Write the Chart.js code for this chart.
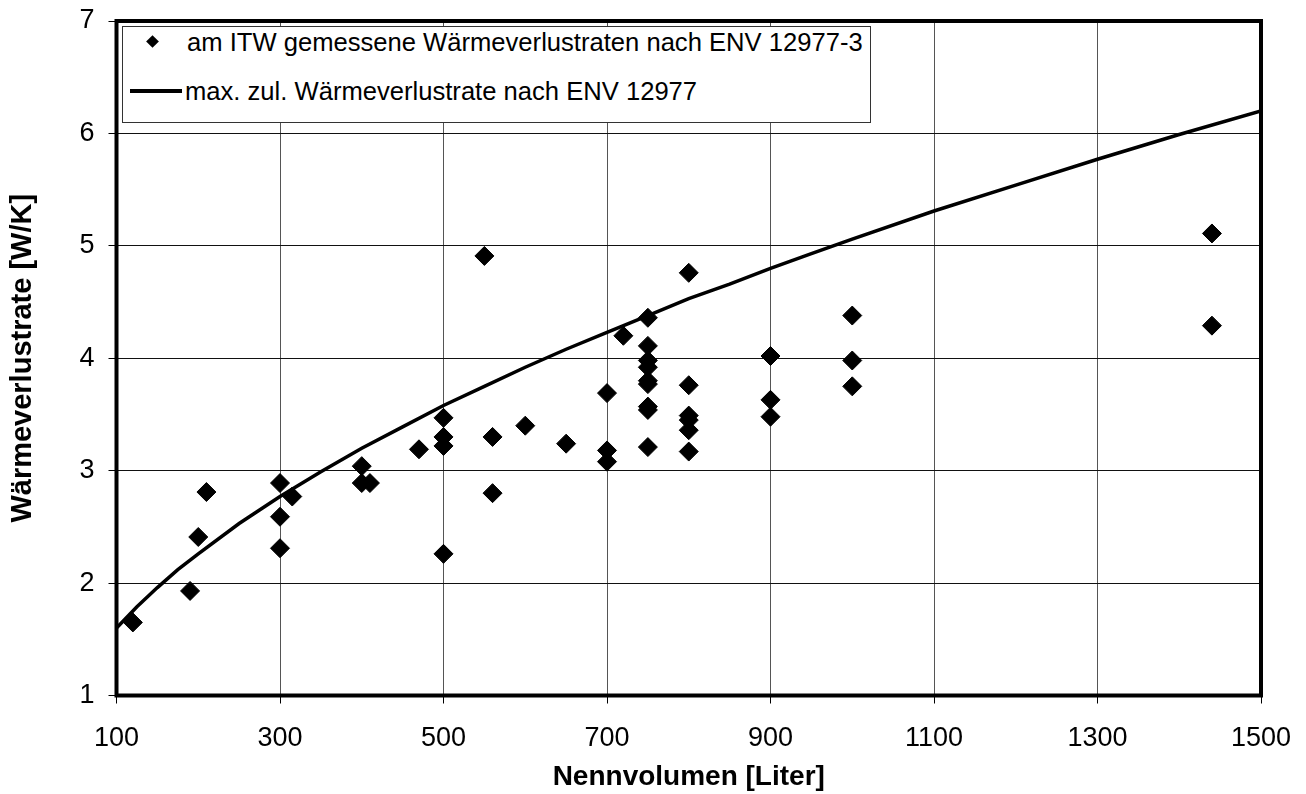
<!DOCTYPE html>
<html>
<head>
<meta charset="utf-8">
<script src="https://cdn.jsdelivr.net/npm/chart.js@4.4.1/dist/chart.umd.min.js"></script>
<style>
  body { margin: 0; background: #fff; }
  #wrap { position: relative; width: 1306px; height: 794px; }
  #legende { position: absolute; left: 122px; top: 26px; width: 749px; height: 97px;
    box-sizing: border-box; border: 1px solid #333; background: #fff; }
  .txt { position: absolute; white-space: nowrap; font-family: 'Liberation Sans', Arial, sans-serif;
    font-size: 25.6px; line-height: 30px; color: #000; }
  #raute { position: absolute; left: 148px; top: 37px; width: 9px; height: 9px; background: #000;
    transform: rotate(45deg); }
  #strich { position: absolute; left: 130px; top: 89px; width: 52px; height: 4px; background: #000; }
</style>
</head>
<body>
<div id="wrap">
  <canvas id="grafik" width="1306" height="794"></canvas>
  <div id="legende"></div>
  <div id="raute"></div>
  <div class="txt" style="left:187px; top:27px;">am ITW gemessene Wärmeverlustraten nach ENV 12977-3</div>
  <div id="strich"></div>
  <div class="txt" style="left:185px; top:76px;">max. zul. Wärmeverlustrate nach ENV 12977</div>
</div>
<script>
// Messwerte (Nennvolumen in Liter, Wärmeverlustrate in W/K)
const volumen = [120, 190, 200, 210, 300, 300, 300, 315, 400, 400, 410, 470,
  500, 500, 500, 500, 550, 560, 560, 600, 650, 700, 700, 700, 720,
  750, 750, 750, 750, 750, 750, 750, 750, 750,
  800, 800, 800, 800, 800, 800, 900, 900, 900, 1000, 1000, 1000, 1440, 1440];
const verlustrate = [1.65, 1.93, 2.41, 2.81, 2.89, 2.59, 2.31, 2.77, 3.04, 2.89, 2.89, 3.19,
  3.47, 3.30, 3.22, 2.26, 4.91, 3.30, 2.80, 3.40, 3.24, 3.69, 3.18, 3.08, 4.20,
  4.36, 4.11, 3.98, 3.92, 3.80, 3.77, 3.57, 3.54, 3.21,
  4.76, 3.76, 3.49, 3.45, 3.36, 3.17, 4.02, 3.63, 3.48, 4.38, 3.98, 3.75, 5.11, 4.29];

// Grenzkurve nach ENV 12977
const normVolumen = [100, 125, 150, 175, 200, 250, 300, 350, 400, 450, 500, 550, 600, 650,
  700, 750, 800, 850, 900, 950, 1000, 1100, 1200, 1300, 1400, 1500];
const normVerlust = [1.60, 1.79, 1.96, 2.12, 2.26, 2.53, 2.77, 2.99, 3.20, 3.39, 3.58, 3.75, 3.92, 4.08,
  4.23, 4.38, 4.53, 4.66, 4.80, 4.93, 5.06, 5.31, 5.54, 5.77, 5.99, 6.20];

const xTicks = [100, 300, 500, 700, 900, 1100, 1300, 1500];
const yTicks = [1, 2, 3, 4, 5, 6, 7];

Chart.defaults.font.family = "'Liberation Sans', Arial, sans-serif";
Chart.defaults.color = '#000';

// dicker Rahmen um die Zeichenfläche
const rahmen = {
  id: 'rahmen',
  afterDatasetsDraw(chart) {
    const { ctx, chartArea: a } = chart;
    ctx.save();
    ctx.lineWidth = 4;
    ctx.strokeStyle = '#000';
    ctx.strokeRect(a.left, a.top, a.right - a.left, a.bottom - a.top);
    ctx.restore();
  }
};

new Chart(document.getElementById('grafik'), {
  type: 'scatter',
  data: {
    datasets: [{
      label: 'am ITW gemessene Wärmeverlustraten nach ENV 12977-3',
      data: volumen.map((v, i) => ({ x: v, y: verlustrate[i] })),
      pointStyle: 'rectRot',
      pointRadius: 9.5,
      pointHoverRadius: 9.5,
      backgroundColor: '#000',
      borderColor: '#000',
      borderWidth: 1
    }, {
      label: 'max. zul. Wärmeverlustrate nach ENV 12977',
      data: normVolumen.map((v, i) => ({ x: v, y: normVerlust[i] })),
      showLine: true,
      pointRadius: 0,
      borderColor: '#000',
      borderWidth: 3.5,
      fill: false
    }]
  },
  options: {
    responsive: false,
    animation: false,
    devicePixelRatio: 1,
    layout: { padding: { left: 0, top: 21, right: 45, bottom: 0 } },
    plugins: { legend: { display: false }, tooltip: { enabled: false } },
    scales: {
      x: {
        type: 'linear', min: 100, max: 1500,
        afterBuildTicks: (s) => { s.ticks = xTicks.map(v => ({ value: v })); },
        afterFit: (s) => { s.height = 98.5; s.paddingLeft = 0; s.paddingRight = 0; },
        ticks: { font: { size: 27 }, padding: 19, maxRotation: 0, callback: (v) => String(v) },
        grid: { color: '#555', lineWidth: 1, tickLength: 8, tickColor: '#000' },
        border: { display: false },
        title: { display: true, text: 'Nennvolumen [Liter]', font: { size: 28, weight: 'bold' },
          padding: { top: 0, bottom: 0 } }
      },
      y: {
        type: 'linear', min: 1, max: 7,
        afterBuildTicks: (s) => { s.ticks = yTicks.map(v => ({ value: v })); },
        afterFit: (s) => { s.width = 116.5; s.paddingTop = 0; s.paddingBottom = 0; },
        ticks: { font: { size: 27 }, padding: 14, callback: (v) => String(v) },
        grid: { color: '#111', lineWidth: 1, tickLength: 8, tickColor: '#000' },
        border: { display: false },
        title: { display: true, text: 'Wärmeverlustrate [W/K]', font: { size: 29, weight: 'bold' },
          padding: { top: 6, bottom: 0 } }
      }
    }
  },
  plugins: [rahmen]
});
</script>
</body>
</html>
